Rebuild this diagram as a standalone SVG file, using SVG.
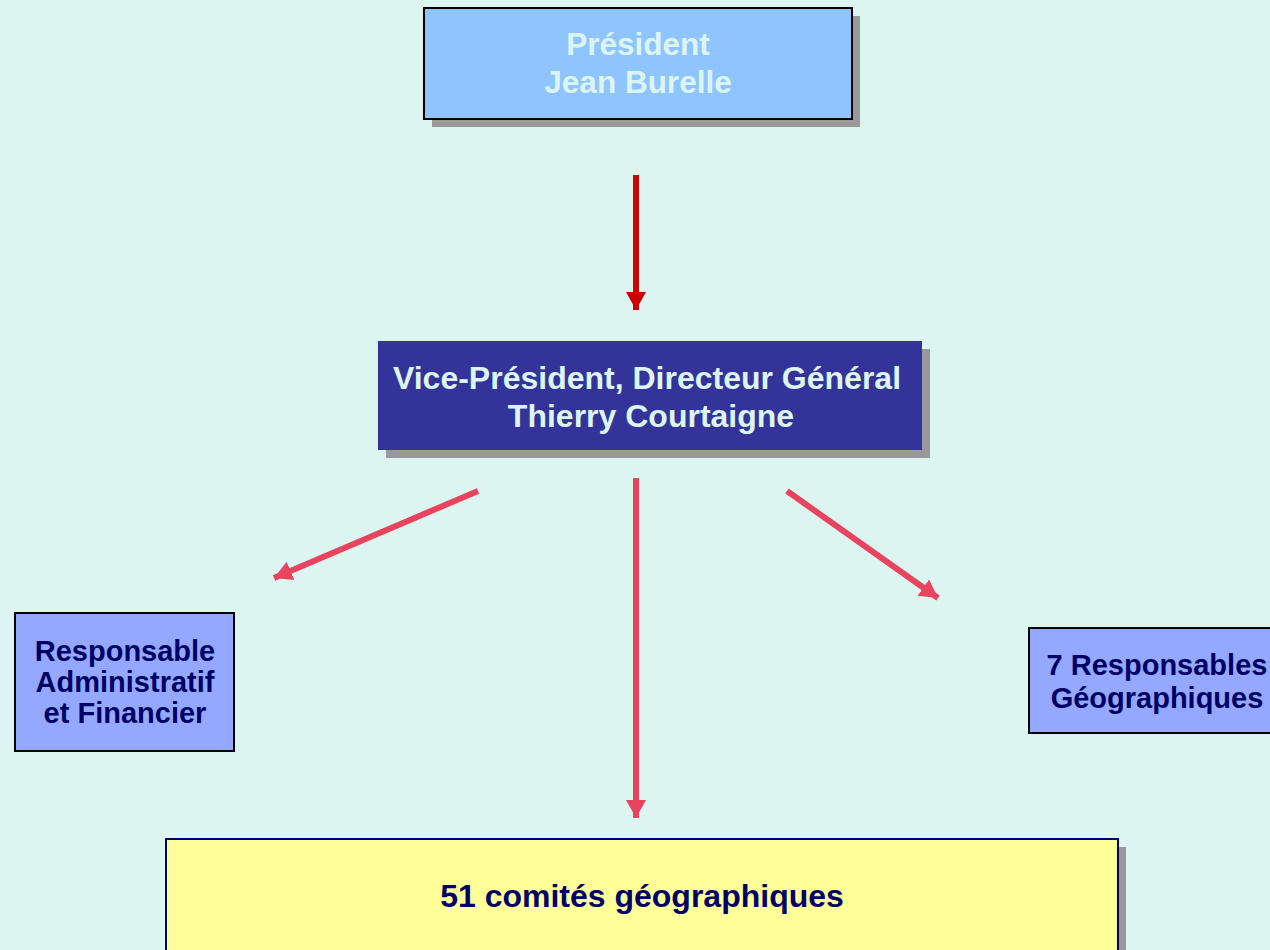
<svg xmlns="http://www.w3.org/2000/svg" width="1270" height="950" viewBox="0 0 1270 950">
<style>
text{font-family:"Liberation Sans",Arial,sans-serif;font-weight:bold;text-anchor:middle}
.shadow{fill:#999999}
.light{fill:#DDF5F0}
.navy{fill:#000066}
</style>
<defs>
<marker id="ahRed" markerUnits="userSpaceOnUse" markerWidth="22" markerHeight="22" refX="18" refY="10" orient="auto">
<path d="M0,0 L18,10 L0,20 Z" fill="#CC0000"/>
</marker>
<marker id="ahPink" markerUnits="userSpaceOnUse" markerWidth="22" markerHeight="22" refX="18" refY="10" orient="auto">
<path d="M0,0 L18,10 L0,20 Z" fill="#E8435F"/>
</marker>
</defs>
<rect width="1270" height="950" fill="#DDF5F0"/>

<g id="president">
<rect class="shadow" x="432" y="16" width="428" height="111"/>
<rect x="424" y="8" width="428" height="111" fill="#8FC5FF" stroke="#000000" stroke-width="2"/>
<text class="light" x="638" y="55" font-size="31.5">Président</text>
<text class="light" x="638" y="93" font-size="31.5">Jean Burelle</text>
</g>

<g id="vice-president">
<rect class="shadow" x="386" y="349" width="544" height="109"/>
<rect x="378" y="341" width="544" height="109" fill="#333399"/>
<text class="light" x="647" y="389" font-size="32">Vice-Président, Directeur Général</text>
<text class="light" x="651" y="427" font-size="32">Thierry Courtaigne</text>
</g>

<g id="raf">
<rect x="15" y="613" width="219" height="138" fill="#94A8FF" stroke="#000000" stroke-width="2"/>
<text class="navy" x="125" y="661" font-size="29">Responsable</text>
<text class="navy" x="125" y="692" font-size="29">Administratif</text>
<text class="navy" x="125" y="723" font-size="29">et Financier</text>
</g>

<g id="resp-geo">
<rect x="1029" y="628" width="250" height="105" fill="#94A8FF" stroke="#000000" stroke-width="2"/>
<text class="navy" x="1157" y="675" font-size="29">7 Responsables</text>
<text class="navy" x="1157" y="708" font-size="29">Géographiques</text>
</g>

<g id="comites">
<rect class="shadow" x="174" y="847" width="952" height="110"/>
<rect x="166" y="839" width="952" height="120" fill="#FFFF99" stroke="#000066" stroke-width="2"/>
<text class="navy" x="642" y="907" font-size="32">51 comités géographiques</text>
</g>

<g id="connectors">
<line x1="636" y1="175" x2="636" y2="310" stroke="#CC0000" stroke-width="6" marker-end="url(#ahRed)"/>
<line x1="636" y1="478" x2="636" y2="818" stroke="#E8435F" stroke-width="6" marker-end="url(#ahPink)"/>
<line x1="478" y1="491" x2="274" y2="578" stroke="#E8435F" stroke-width="6" marker-end="url(#ahPink)"/>
<line x1="787" y1="491" x2="938" y2="598" stroke="#E8435F" stroke-width="6" marker-end="url(#ahPink)"/>
</g>
</svg>
